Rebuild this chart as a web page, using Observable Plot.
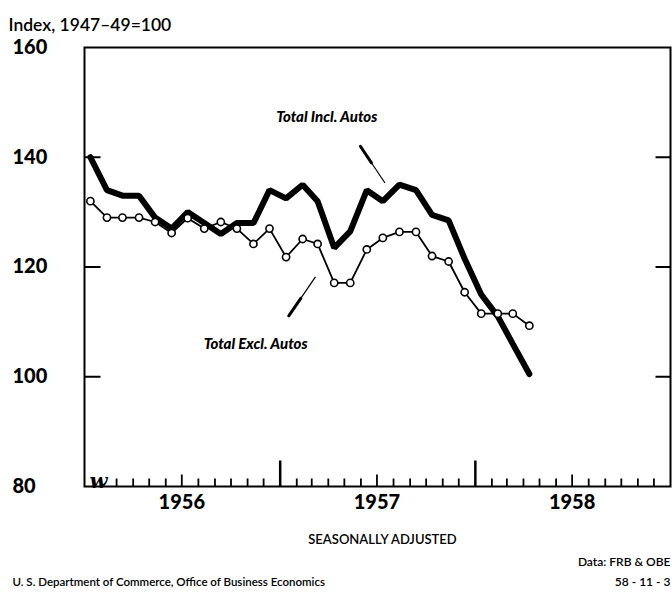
<!DOCTYPE html>
<html>
<head>
<meta charset="utf-8">
<script src="https://cdn.jsdelivr.net/npm/d3@7"></script>
<script src="https://cdn.jsdelivr.net/npm/@observablehq/plot@0.6"></script>
<style>
  html, body { margin: 0; padding: 0; background: #fff; }
  #chart svg { display: block; }
</style>
</head>
<body>
<div id="chart"></div>
<script>
// ---- data ----
const months = [
  "1956-01","1956-02","1956-03","1956-04","1956-05","1956-06","1956-07","1956-08","1956-09","1956-10","1956-11","1956-12",
  "1957-01","1957-02","1957-03","1957-04","1957-05","1957-06","1957-07","1957-08","1957-09","1957-10","1957-11","1957-12",
  "1958-01","1958-02","1958-03","1958-04"
];
const inclAutos = [140,134,133,133,129,127,130,128,126,128,128,134,132.5,135,132,123.5,126.5,134,132,135,134,129.5,128.5,121.5,115,111,106,100.5];
const exclAutos = [132,129,129,129,128.2,126.2,128.9,127,128.2,127,124.2,127,121.8,125.1,124.2,117.1,117.1,123.2,125.3,126.4,126.4,122,121,115.4,111.5,111.5,111.5,109.3];

const yTicks = [160, 140, 120, 100, 80];
const years = [1956, 1957, 1958];
const innerYTicks = [140, 120, 100];

const annLabels = ["Total Incl. Autos", "Total Excl. Autos"];
const annDates = ["1957-03-29", "1956-11-16"];
const annValues = [147.3, 106];
const pointerFromDates = ["1957-05-31", "1957-01-17"];
const pointerFromValues = [142, 111.1];
const pointerToDates = ["1957-07-16", "1957-03-08"];
const pointerToValues = [135.3, 118.2];

const title = "Index, 1947\u201349=100";
const subtitle = "SEASONALLY ADJUSTED";
const dataSource = "Data: FRB & OBE";
const footer = "U. S. Department of Commerce, Office of Business Economics";
const chartCode = "58 - 11 - 3";

// ---- derived tables ----
const toDate = (s) => { const [y, m, d] = s.split("-").map(Number); return new Date(Date.UTC(y, m - 1, d || 12)); };
const series = months.map((m, i) => ({date: toDate(m), incl: inclAutos[i], excl: exclAutos[i]}));
const ann = annLabels.map((t, i) => ({text: t, date: toDate(annDates[i]), value: annValues[i]}));
const pointers = pointerFromDates.map((d, i) => {
  const a = {date: toDate(d), value: pointerFromValues[i]};
  const b = {date: toDate(pointerToDates[i]), value: pointerToValues[i]};
  const mid = {date: new Date((+a.date * 0.55 + +b.date * 0.45)), value: a.value * 0.55 + b.value * 0.45};
  return {a, b, mid};
});

const FONT = "Lato, 'Open Sans', sans-serif";
const W = 672, H = 594, ML = 84, MR = 2, MT = 47, MB = 108;
const FW = W - ML - MR, FH = H - MT - MB;
const X0 = new Date(Date.UTC(1956, 0, 1)), X1 = new Date(Date.UTC(1959, 0, 1));
const Y0 = 80, Y1 = 160;
const unitsPerPx = (Y1 - Y0) / FH;
const msPerPx = (X1 - X0) / FW;

// tick table for the time axis: every month boundary inside the frame
const bottomTicks = [];
for (const y of years) for (let m = 0; m < 12; m++) {
  if (y === 1956 && m === 0) continue;
  const len = m === 0 ? 26 : m === 6 ? 12 : 8;
  bottomTicks.push({date: new Date(Date.UTC(y, m, 1)), top: Y0 + len * unitsPerPx, w: m === 0 ? 2.5 : 1.8});
}
// inner value ticks on both sides
const sideTicks = innerYTicks.flatMap(v => [
  {value: v, from: X0, to: new Date(+X0 + 16 * msPerPx)},
  {value: v, from: new Date(+X1 - 15 * msPerPx), to: X1}
]);

const chart = Plot.plot({
  width: W, height: H,
  marginLeft: ML, marginRight: MR, marginTop: MT, marginBottom: MB,
  style: {fontFamily: FONT, color: "#000", background: "#fff"},
  x: {type: "utc", domain: [X0, X1], axis: null},
  y: {domain: [Y0, Y1], axis: null},
  marks: [
    Plot.frame({stroke: "#000", strokeWidth: 2}),
    Plot.link(bottomTicks, {x1: "date", x2: "date", y1: () => Y0, y2: "top", stroke: "#000", strokeWidth: "w"}),
    Plot.link(sideTicks, {x1: "from", x2: "to", y1: "value", y2: "value", stroke: "#000", strokeWidth: 2}),
    // axis break squiggle
    Plot.text(["w"], {frameAnchor: "bottom-left", dx: 5, dy: 1, fontSize: 21, fontWeight: "bold", fontStyle: "italic", fontFamily: "'DejaVu Serif', serif"}),
    // y labels
    Plot.text(yTicks, {y: d => d, frameAnchor: "left", dx: -72, textAnchor: "start", text: d => String(d), fontSize: 20, fontWeight: "900"}),
    // year labels
    Plot.text(years, {x: y => new Date(Date.UTC(y, 6, 1)), frameAnchor: "bottom", dy: 22, text: d => String(d), fontSize: 20, fontWeight: "900"}),
    // series
    Plot.line(series, {x: "date", y: "incl", stroke: "#000", strokeWidth: 6, strokeLinejoin: "miter", strokeLinecap: "round"}),
    Plot.line(series, {x: "date", y: "excl", stroke: "#000", strokeWidth: 1.8}),
    Plot.dot(series, {x: "date", y: "excl", r: 3.6, fill: "#fff", stroke: "#000", strokeWidth: 1.6}),
    // annotations
    Plot.text(ann, {x: "date", y: "value", text: "text", fontSize: 15, fontWeight: "900", fontStyle: "italic", letterSpacing: "0.6px"}),
    Plot.link(pointers, {x1: d => d.a.date, y1: d => d.a.value, x2: d => d.b.date, y2: d => d.b.value, stroke: "#000", strokeWidth: 1.2}),
    Plot.link(pointers, {x1: d => d.a.date, y1: d => d.a.value, x2: d => d.mid.date, y2: d => d.mid.value, stroke: "#000", strokeWidth: 3, strokeLinecap: "round"}),
    // titles and notes
    Plot.text([title], {frameAnchor: "top-left", dx: -76, dy: -29, textAnchor: "start", fontSize: 17.5, fontWeight: 600, letterSpacing: "0.6px"}),
    Plot.text([subtitle], {frameAnchor: "bottom", dx: 5, dy: 57, fontSize: 13, fontWeight: 600}),
    Plot.text([dataSource], {frameAnchor: "bottom-right", dx: 0, dy: 79, textAnchor: "end", fontSize: 12, fontWeight: 600, letterSpacing: "0.8px"}),
    Plot.text([footer], {frameAnchor: "bottom-left", dx: -72, dy: 99, textAnchor: "start", fontSize: 11.5, fontWeight: 600}),
    Plot.text([chartCode], {frameAnchor: "bottom-right", dx: 0, dy: 99, textAnchor: "end", fontSize: 12, fontWeight: 600})
  ]
});
document.getElementById("chart").appendChild(chart);
</script>
</body>
</html>
